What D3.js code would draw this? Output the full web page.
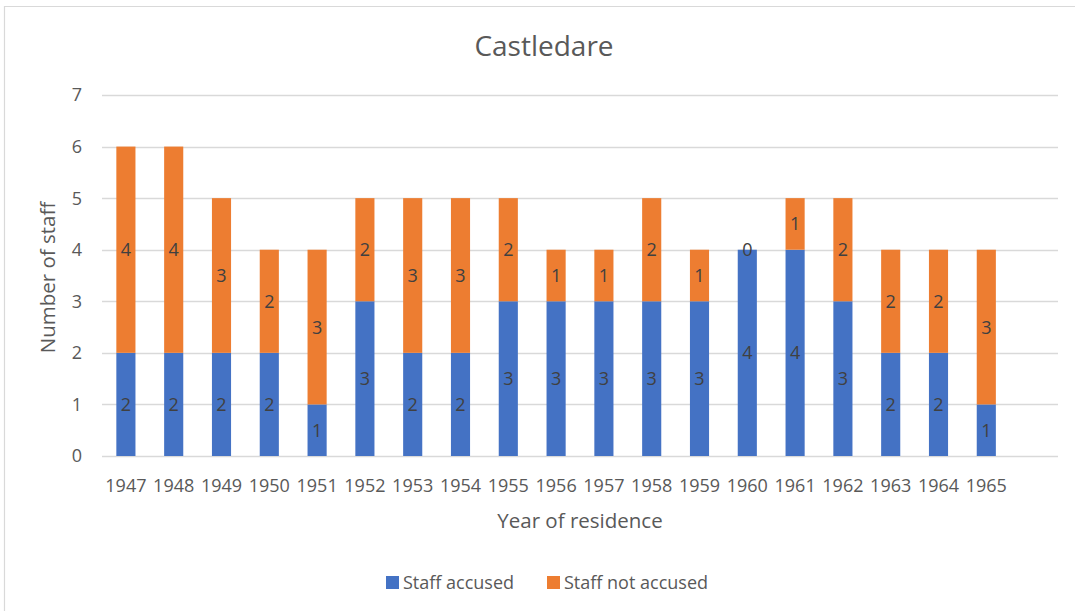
<!DOCTYPE html>
<html lang="en">
<head>
<meta charset="UTF-8">
<title>Castledare</title>
<style>
    body { margin: 0; background: #fff; }
    svg text { font-family: "Open Sans", sans-serif; }
</style>
<script src="https://d3js.org/d3.v7.min.js"></script>
</head>
<body>
<div id="chart"></div>
<script>
    // chart data
    var years = ["1947", "1948", "1949", "1950", "1951", "1952", "1953", "1954", "1955", "1956",
                 "1957", "1958", "1959", "1960", "1961", "1962", "1963", "1964", "1965"];
    var accused =    [2, 2, 2, 2, 1, 3, 2, 2, 3, 3, 3, 3, 3, 4, 4, 3, 2, 2, 1];
    var notAccused = [4, 4, 3, 2, 3, 2, 3, 3, 2, 1, 1, 2, 1, 0, 1, 2, 2, 2, 3];
    var seriesNames = ["Staff accused", "Staff not accused"];
    var yTicks = [0, 1, 2, 3, 4, 5, 6, 7];

    var colors = ["#4472C4", "#ED7D31"];
    var width = 1075, height = 611;
    var plot = {left: 102, right: 1058, top: 95, bottom: 456};

    var svg = d3.select("#chart").append("svg")
        .attr("width", width)
        .attr("height", height);

    // light frame (left + top edges visible)
    svg.append("line").attr("x1", 4.5).attr("x2", 4.5).attr("y1", 6).attr("y2", height)
        .attr("stroke", "#d9d9d9").attr("stroke-width", 1.2);
    svg.append("line").attr("x1", 4).attr("x2", width).attr("y1", 6.5).attr("y2", 6.5)
        .attr("stroke", "#d9d9d9").attr("stroke-width", 1.2);

    // one empty slot at the end, like the original
    var x = d3.scaleBand()
        .domain(years.concat([""]))
        .range([plot.left, plot.right])
        .paddingInner(0.6)
        .paddingOuter(0.3);

    var y = d3.scaleLinear().domain([0, 7]).range([plot.bottom, plot.top]);

    // gridlines
    svg.append("g").selectAll("line")
        .data(yTicks)
        .enter().append("line")
        .attr("x1", plot.left).attr("x2", plot.right)
        .attr("y1", function(d) { return Math.round(y(d)) + 0.5; })
        .attr("y2", function(d) { return Math.round(y(d)) + 0.5; })
        .attr("stroke", "#d9d9d9")
        .attr("stroke-width", 1.3);

    // y tick labels
    svg.append("g").selectAll("text")
        .data(yTicks)
        .enter().append("text")
        .attr("x", 82)
        .attr("y", function(d) { return y(d); })
        .attr("dy", "0.36em")
        .attr("text-anchor", "end")
        .attr("fill", "#595959")
        .style("font-size", "18px")
        .text(function(d) { return d; });

    // x tick labels
    svg.append("g").selectAll("text")
        .data(years)
        .enter().append("text")
        .attr("x", function(d) { return x(d) + x.bandwidth() / 2; })
        .attr("y", 492)
        .attr("text-anchor", "middle")
        .attr("fill", "#595959")
        .style("font-size", "18px")
        .text(function(d) { return d; });

    // stacked data
    var rows = years.map(function(yr, i) {
        return {year: yr, accused: accused[i], notAccused: notAccused[i]};
    });
    var stack = d3.stack().keys(["accused", "notAccused"])(rows);

    var layers = svg.append("g").selectAll("g")
        .data(stack)
        .enter().append("g")
        .attr("fill", function(d, i) { return colors[i]; });

    layers.selectAll("rect")
        .data(function(d) { return d; })
        .enter().append("rect")
        .attr("x", function(d) { return x(d.data.year); })
        .attr("width", x.bandwidth())
        .attr("y", function(d) { return y(d[1]); })
        .attr("height", function(d) { return y(d[0]) - y(d[1]); });

    // data labels
    var labels = svg.append("g");
    stack.forEach(function(layer) {
        labels.selectAll(null)
            .data(layer)
            .enter().append("text")
            .attr("x", function(d) { return x(d.data.year) + x.bandwidth() / 2; })
            .attr("y", function(d) { return (y(d[0]) + y(d[1])) / 2; })
            .attr("dy", "0.36em")
            .attr("text-anchor", "middle")
            .attr("fill", "#404040")
            .style("font-size", "18px")
            .text(function(d) { return d[1] - d[0]; });
    });

    // title
    svg.append("text")
        .attr("x", 544)
        .attr("y", 56)
        .attr("text-anchor", "middle")
        .attr("fill", "#595959")
        .style("font-size", "28px")
        .text("Castledare");

    // axis titles
    svg.append("text")
        .attr("x", 580)
        .attr("y", 528)
        .attr("text-anchor", "middle")
        .attr("fill", "#595959")
        .style("font-size", "20.5px")
        .text("Year of residence");

    svg.append("text")
        .attr("transform", "translate(55," + ((plot.top + plot.bottom) / 2 + 2) + ") rotate(-90)")
        .attr("text-anchor", "middle")
        .attr("fill", "#595959")
        .style("font-size", "20.5px")
        .text("Number of staff");

    // legend
    var legendX = [386, 547];
    var legend = svg.append("g").selectAll("g")
        .data(seriesNames)
        .enter().append("g")
        .attr("transform", function(d, i) { return "translate(" + legendX[i] + ",0)"; });

    legend.append("rect")
        .attr("x", 0).attr("y", 576)
        .attr("width", 13).attr("height", 13)
        .attr("fill", function(d, i) { return colors[i]; });

    legend.append("text")
        .attr("x", 17)
        .attr("y", 589)
        .attr("fill", "#595959")
        .style("font-size", "18px")
        .text(function(d) { return d; });
</script>
</body>
</html>
